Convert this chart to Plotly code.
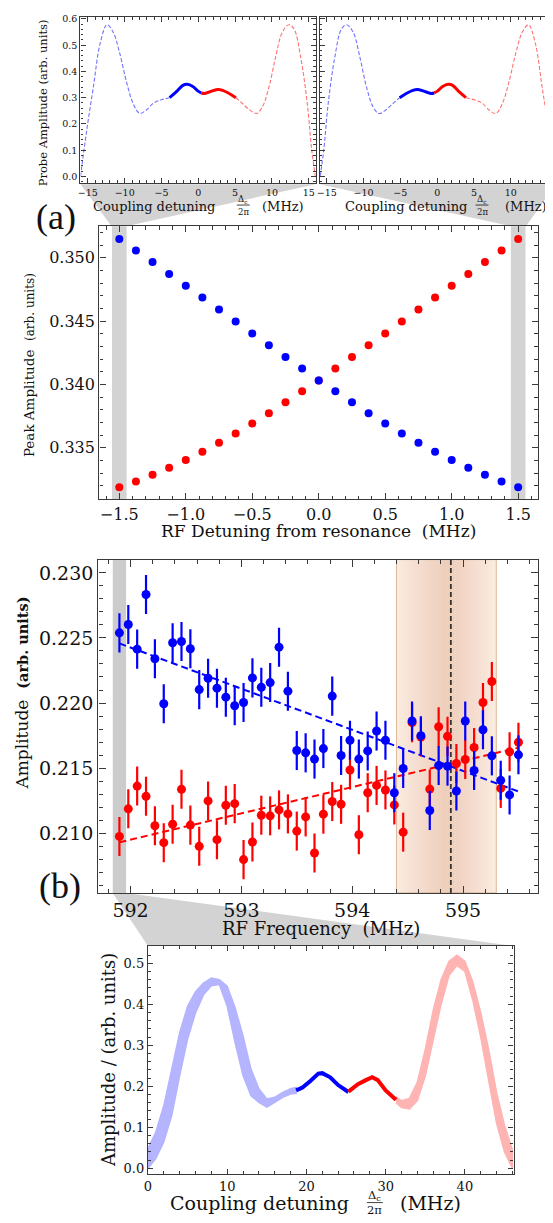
import plotly.graph_objects as go

# The page body adds an 8 px margin, so the figure is drawn 8 px in from the top-left corner.
OFF = 8
W, H = 553 - OFF, 1223 - OFF
SERIF = "DejaVu Serif"
FRAME = "#3a3a3a"


def px(x):
    return (x - OFF) / W


def py(y):
    return 1 - (y - OFF) / H


# ---------------- data ----------------
# top-left inset (probe spectrum, RF detuning -1.5 MHz)
inL_bdash_x = [-16.0, -15.15, -14.25, -13.35, -12.4, -11.55, -10.65, -9.75, -8.85, -7.95, -7.06, -6.16, -5.26, -3.9]
inL_bdash_y = [0.0, 0.177, 0.341, 0.505, 0.578, 0.549, 0.467, 0.36, 0.278, 0.24, 0.253, 0.278, 0.29, 0.30]
inL_bsol_x = [-3.9, -3.0, -2.1, -1.5, -0.75, -0.07, 0.4]
inL_bsol_y = [0.30, 0.322, 0.347, 0.351, 0.343, 0.326, 0.318]
inL_rsol_x = [0.4, 0.83, 1.5, 2.63, 3.3, 4.2, 5.1]
inL_rsol_y = [0.318, 0.316, 0.322, 0.331, 0.328, 0.316, 0.30]
inL_rdash_x = [5.1, 6.0, 6.9, 7.9, 8.7, 9.6, 10.5, 11.4, 12.3, 13.0, 13.9, 14.8, 15.4, 15.9]
inL_rdash_y = [0.30, 0.278, 0.255, 0.24, 0.265, 0.341, 0.455, 0.549, 0.578, 0.562, 0.455, 0.278, 0.101, 0.0]

# top-right inset (RF detuning +1.5 MHz)
inR_bdash_x = [-15.9, -15.4, -14.8, -13.9, -13.0, -12.3, -11.4, -10.5, -9.6, -8.7, -7.9, -6.9, -6.0, -5.1]
inR_bdash_y = [0.0, 0.101, 0.278, 0.455, 0.562, 0.578, 0.549, 0.455, 0.341, 0.265, 0.24, 0.255, 0.278, 0.30]
inR_bsol_x = [-5.1, -4.2, -3.3, -2.63, -1.5, -0.83, -0.4]
inR_bsol_y = [0.30, 0.316, 0.328, 0.331, 0.322, 0.316, 0.318]
inR_rsol_x = [-0.4, 0.07, 0.75, 1.5, 2.1, 3.0, 3.9]
inR_rsol_y = [0.318, 0.326, 0.343, 0.351, 0.347, 0.322, 0.30]
inR_rdash_x = [3.9, 5.26, 6.16, 7.06, 7.95, 8.85, 9.75, 10.65, 11.55, 12.4, 13.35, 14.25, 15.15, 16.0]
inR_rdash_y = [0.30, 0.29, 0.278, 0.253, 0.24, 0.278, 0.36, 0.467, 0.549, 0.578, 0.505, 0.341, 0.177, 0.0]

# panel (a): peak amplitude vs RF detuning
rf_det = [-1.5, -1.375, -1.25, -1.125, -1.0, -0.875, -0.75, -0.625, -0.5, -0.375, -0.25, -0.125, 0.0,
          0.125, 0.25, 0.375, 0.5, 0.625, 0.75, 0.875, 1.0, 1.125, 1.25, 1.375, 1.5]
peak_blue = [0.35149, 0.35057, 0.34966, 0.34872, 0.34780, 0.34686, 0.34592, 0.34498, 0.34403, 0.34309,
             0.34217, 0.34126, 0.34032, 0.33946, 0.33860, 0.33773, 0.33692, 0.33614, 0.33541, 0.33470,
             0.33405, 0.33342, 0.33287, 0.33234, 0.33189]
peak_red = [0.33189, 0.33234, 0.33287, 0.33342, 0.33405, 0.33470, 0.33541, 0.33614, 0.33692, 0.33773,
            0.33860, 0.33946, 0.34032, 0.34126, 0.34217, 0.34309, 0.34403, 0.34498, 0.34592, 0.34686,
            0.34780, 0.34872, 0.34966, 0.35057, 0.35149]
band_a = [[-1.555, -1.445], [1.445, 1.555]]

# panel (b): measured amplitudes vs RF frequency
rf_freq = [591.90, 591.98, 592.06, 592.14, 592.22, 592.30, 592.38, 592.46, 592.54, 592.62,
           592.70, 592.78, 592.86, 592.94, 593.02, 593.10, 593.18, 593.26, 593.34, 593.42,
           593.50, 593.58, 593.66, 593.74, 593.82, 593.90, 593.98, 594.06, 594.14, 594.22,
           594.30, 594.38, 594.46, 594.54, 594.62, 594.70, 594.78, 594.86, 594.94, 595.02,
           595.10, 595.18, 595.26, 595.34, 595.42, 595.50]
amp_blue = [0.22539, 0.22603, 0.22414, 0.22834, 0.22340, 0.21994, 0.22463, 0.22473, 0.22417, 0.22103,
            0.22190, 0.22114, 0.22045, 0.21979, 0.22004, 0.22193, 0.22121, 0.22157, 0.22429, 0.22091,
            0.21635, 0.21617, 0.21569, 0.21650, 0.22053, 0.21597, 0.21714, 0.21569, 0.21632, 0.21785,
            0.21714, 0.21311, 0.21497, 0.21862, 0.21749, 0.21174, 0.21520, 0.21515, 0.21324, 0.21862,
            0.21482, 0.21795, 0.21594, 0.21406, 0.21294, 0.21602]
amp_red = [0.20975, 0.21187, 0.21362, 0.21283, 0.21057, 0.20927, 0.21069, 0.21337, 0.21062, 0.20899,
           0.21248, 0.20950, 0.21215, 0.21227, 0.20797, 0.20932, 0.21138, 0.21133, 0.21179, 0.21148,
           0.21016, 0.21125, 0.20848, 0.21146, 0.21243, 0.21222, 0.21485, 0.20988, 0.21311, 0.21367,
           0.21332, 0.21217, 0.21008, 0.21849, 0.21739, 0.21339, 0.21818, 0.21744, 0.21535, 0.21566,
           0.21658, 0.22004, 0.22165, 0.21344, 0.21625, 0.21699]
amp_err = [0.0015] * 46
fit_x = [591.90, 595.50]
fit_blue = [0.22458, 0.21320]
fit_red = [0.20930, 0.21657]
band_b = [591.84, 591.96]
res_band = [594.40, 595.30]
res_line = 594.89

# bottom inset: measured spectrum
bl_x = [0, 1, 2, 3, 4, 5, 6, 7, 8, 9, 10, 11, 12, 13, 14, 15, 16, 17, 18, 18.7]
bl_up = [0.048, 0.089, 0.153, 0.242, 0.331, 0.395, 0.431, 0.452, 0.464, 0.460, 0.444, 0.391, 0.323, 0.242,
         0.194, 0.169, 0.173, 0.185, 0.194, 0.197]
bl_lo = [0.0, 0.024, 0.065, 0.129, 0.226, 0.315, 0.379, 0.423, 0.445, 0.448, 0.395, 0.306, 0.226, 0.177,
         0.161, 0.149, 0.161, 0.173, 0.181, 0.183]
bs_x = [18.7, 19.5, 20.5, 21.5, 22.0, 23.0, 24.0, 25.3]
bs_y = [0.190, 0.197, 0.213, 0.231, 0.232, 0.222, 0.203, 0.186]
rs_x = [25.3, 26.5, 27.5, 28.3, 29.0, 30.0, 31.3]
rs_y = [0.187, 0.205, 0.215, 0.222, 0.215, 0.190, 0.167]
rl_x = [31.3, 32, 33, 34, 35, 36, 37, 38, 39, 40, 41, 42, 43, 44, 45, 46]
rl_up = [0.174, 0.165, 0.170, 0.210, 0.290, 0.385, 0.460, 0.505, 0.520, 0.505, 0.455, 0.380, 0.290, 0.185,
         0.105, 0.045]
rl_lo = [0.160, 0.148, 0.145, 0.165, 0.225, 0.310, 0.400, 0.470, 0.495, 0.480, 0.410, 0.320, 0.215, 0.110,
         0.040, 0.0]

BLUE, RED = "#0000ff", "#ff0000"
LBLUE, LRED = "#7272ff", "#ff7272"

fig = go.Figure()

# ---- top insets ----
for (xs, ys, col, dash, wd, ax) in [
    (inL_bdash_x, inL_bdash_y, LBLUE, "4px,2px", 1.1, 1), (inL_bsol_x, inL_bsol_y, BLUE, None, 3, 1),
    (inL_rsol_x, inL_rsol_y, RED, None, 3, 1), (inL_rdash_x, inL_rdash_y, LRED, "4px,2px", 1.1, 1),
    (inR_bdash_x, inR_bdash_y, LBLUE, "4px,2px", 1.1, 2), (inR_bsol_x, inR_bsol_y, BLUE, None, 3, 2),
    (inR_rsol_x, inR_rsol_y, RED, None, 3, 2), (inR_rdash_x, inR_rdash_y, LRED, "4px,2px", 1.1, 2)]:
    fig.add_trace(go.Scatter(x=xs, y=ys, mode="lines", xaxis="x" if ax == 1 else "x2",
                             yaxis="y" if ax == 1 else "y2",
                             line=dict(color=col, width=wd, dash=dash, shape="spline", smoothing=1.0),
                             showlegend=False, hoverinfo="skip"))

# ---- panel (a) ----
fig.add_trace(go.Scatter(x=rf_det, y=peak_red, mode="markers", xaxis="x3", yaxis="y3",
                         marker=dict(color=RED, size=8), showlegend=False))
fig.add_trace(go.Scatter(x=rf_det, y=peak_blue, mode="markers", xaxis="x3", yaxis="y3",
                         marker=dict(color=BLUE, size=8), showlegend=False))

# ---- panel (b) ----
fig.add_trace(go.Scatter(x=fit_x, y=fit_blue, mode="lines", xaxis="x4", yaxis="y4",
                         line=dict(color=BLUE, width=2, dash="7px,4px"), showlegend=False))
fig.add_trace(go.Scatter(x=fit_x, y=fit_red, mode="lines", xaxis="x4", yaxis="y4",
                         line=dict(color=RED, width=2, dash="7px,4px"), showlegend=False))
fig.add_trace(go.Scatter(x=rf_freq, y=amp_red, mode="markers", xaxis="x4", yaxis="y4",
                         marker=dict(color=RED, size=9),
                         error_y=dict(type="data", array=amp_err, color=RED, thickness=2.2, width=0),
                         showlegend=False))
fig.add_trace(go.Scatter(x=rf_freq, y=amp_blue, mode="markers", xaxis="x4", yaxis="y4",
                         marker=dict(color=BLUE, size=9),
                         error_y=dict(type="data", array=amp_err, color=BLUE, thickness=2.2, width=0),
                         showlegend=False))

# ---- bottom inset ----
fig.add_trace(go.Scatter(x=bl_x + bl_x[::-1], y=bl_up + bl_lo[::-1], mode="lines", fill="toself",
                         fillcolor="#b4b4ff", line=dict(color="#b4b4ff", width=1.5),
                         xaxis="x5", yaxis="y5", showlegend=False))
fig.add_trace(go.Scatter(x=rl_x + rl_x[::-1], y=rl_up + rl_lo[::-1], mode="lines", fill="toself",
                         fillcolor="#ffb4b4", line=dict(color="#ffb4b4", width=1.5),
                         xaxis="x5", yaxis="y5", showlegend=False))
fig.add_trace(go.Scatter(x=bs_x, y=bs_y, mode="lines", line=dict(color=BLUE, width=4),
                         xaxis="x5", yaxis="y5", showlegend=False))
fig.add_trace(go.Scatter(x=rs_x, y=rs_y, mode="lines", line=dict(color=RED, width=4),
                         xaxis="x5", yaxis="y5", showlegend=False))


def axis(dom, rng, anchor, dtick, mdtick, fsize, tlen, mlen, fmt, labels=True):
    return dict(domain=dom, range=rng, anchor=anchor, showline=True, linecolor=FRAME, linewidth=1.4,
                mirror="ticks", ticks="inside", ticklen=tlen, tickwidth=1.1, tickcolor=FRAME,
                tick0=0, dtick=dtick, tickformat=fmt, showticklabels=labels,
                tickfont=dict(family=SERIF, size=fsize, color="#111"), showgrid=False, zeroline=False,
                minor=dict(ticks="inside", tick0=0, dtick=mdtick, ticklen=mlen, tickwidth=1, tickcolor=FRAME),
                fixedrange=True)


fig.update_layout(
    width=W, height=H, margin=dict(l=0, r=0, t=0, b=0), paper_bgcolor="white",
    plot_bgcolor="rgba(0,0,0,0)", showlegend=False,
    xaxis=axis([px(77), px(314)], [-16.0, 15.95], "y", 5, 1, 9.5, 5, 2.5, "d"),
    yaxis=axis([py(180), py(13)], [-0.0254, 0.6076], "x", 0.1, 0.02, 9.5, 5, 2.5, ".1f"),
    xaxis2=axis([px(318), px(551)], [-15.95, 15.46], "y2", 5, 1, 9.5, 5, 2.5, "d"),
    yaxis2=axis([py(180), py(13)], [-0.0254, 0.6076], "x2", 0.1, 0.02, 9.5, 5, 2.5, ".1f", labels=False),
    xaxis3=axis([px(96), px(538)], [-1.65, 1.65], "y3", 0.5, 0.1, 16, 6, 3.5, ".1f"),
    yaxis3=axis([py(497.7), py(223.3)], [0.33094, 0.35249], "x3", 0.005, 0.001, 16, 6, 3.5, ".3f"),
    xaxis4=axis([px(95), px(538.3)], [591.71, 595.68], "y4", 1, 0.2, 19, 7, 4, "d"),
    yaxis4=axis([py(893.3), py(558.3)], [0.20541, 0.23102], "x4", 0.005, 0.001, 19, 7, 4, ".3f"),
    xaxis5=axis([px(145), px(513.3)], [0, 46.15], "y5", 10, 2, 13, 5, 3, "d"),
    yaxis5=axis([py(1176), py(946.7)], [-0.0145, 0.542], "x5", 0.1, 0.02, 13, 5, 3, ".1f"),
)

shapes = []
GRAY = "#d3d3d3"
# connecting wedges (paper coordinates)
wedges = [
    [(77, 181), (314, 181), (123.2, 223.3), (108.3, 223.3)],
    [(318, 181), (556, 181), (525.7, 223.3), (510.9, 223.3)],
    [(109.4, 893.3), (122.8, 893.3), (513.3, 946.7), (145, 946.7)],
]
for wpts in wedges:
    path = "M " + " L ".join(f"{px(a):.5f},{py(b):.5f}" for a, b in wpts) + " Z"
    shapes.append(dict(type="path", path=path, xref="paper", yref="paper", fillcolor=GRAY,
                       line=dict(width=0), layer="below"))
for b0, b1 in band_a:
    shapes.append(dict(type="rect", xref="x3", yref="y3 domain", x0=b0, x1=b1, y0=0, y1=1,
                       fillcolor=GRAY, line=dict(width=0), layer="below"))
shapes.append(dict(type="rect", xref="x4", yref="y4 domain", x0=band_b[0], x1=band_b[1], y0=0, y1=1,
                   fillcolor="#cccccc", line=dict(width=0), layer="below"))
# resonance band with gradient
c = (res_band[0] + res_band[1]) / 2
half = (res_band[1] - res_band[0]) / 2
shapes.append(dict(type="rect", xref="x4", yref="y4 domain", x0=res_band[0], x1=res_band[1], y0=0, y1=1,
                   fillcolor="#faebdf", line=dict(color="#dcb898", width=1), layer="below"))
nlay = 12
for k in range(1, nlay + 1):
    hw = half * (1 - k / (nlay + 1))
    shapes.append(dict(type="rect", xref="x4", yref="y4 domain", x0=c - hw, x1=c + hw, y0=0, y1=1,
                       fillcolor="rgba(232,168,115,0.03)", line=dict(width=0), layer="below"))
shapes.append(dict(type="line", xref="x4", yref="y4 domain", x0=res_line, x1=res_line, y0=0, y1=1,
                   line=dict(color="#333333", width=1.8, dash="5px,3px"), layer="below"))

annotations = []


def ann(text, x, y, size, angle=0, xanchor="center", family=SERIF, color="#111"):
    annotations.append(dict(text=text, x=px(x), y=py(y), xref="paper", yref="paper", showarrow=False,
                            textangle=angle, xanchor=xanchor, yanchor="middle",
                            font=dict(family=family, size=size, color=color)))


def frac(xc, y_top, y_line, y_bot, half_w, size):
    ann("Δ<sub>c</sub>", xc, y_top, size)
    ann("2π", xc, y_bot, size)
    shapes.append(dict(type="line", xref="paper", yref="paper", x0=px(xc - half_w), x1=px(xc + half_w),
                       y0=py(y_line), y1=py(y_line), line=dict(color="#111", width=0.8)))


# top insets labels
ann("Probe Amplitude (arb. units)", 39, 99, 11.5, angle=-90)
ann("Coupling detuning", 215, 203, 13, xanchor="right")
ann("(MHz)", 258, 203, 13, xanchor="left")
frac(241, 196, 202, 208.5, 6.5, 8.5)
ann("Coupling detuning", 468, 203, 13, xanchor="right")
ann("(MHz)", 503, 203, 13, xanchor="left")
frac(481.5, 196, 202, 208.5, 6.5, 8.5)

# panel (a)
ann("(a)", 52, 214, 36, family="Liberation Serif")
ann("Peak Amplitude  <span style='font-size:12px'>(arb. units)</span>", 25, 363, 13.5, angle=-90)
ann("RF Detuning from resonance  (MHz)", 317, 530, 17)

# panel (b)
ann("(b)", 56, 886, 36, family="Liberation Serif")
ann("Amplitude  <b style='font-size:14.5px'>(arb. units)</b>", 18, 692, 17, angle=-90)
ann("RF Frequency  (MHz)", 319, 929, 18)

# bottom inset
ann("Amplitude / (arb. units)", 106, 1061, 18, angle=-90)
ann("Coupling detuning", 350, 1205, 19, xanchor="right")
ann("(MHz)", 397, 1205, 19, xanchor="left")
frac(373.5, 1197, 1204.5, 1212, 8, 11.5)

fig.update_layout(shapes=shapes, annotations=annotations)
fig.write_html("out.html")
